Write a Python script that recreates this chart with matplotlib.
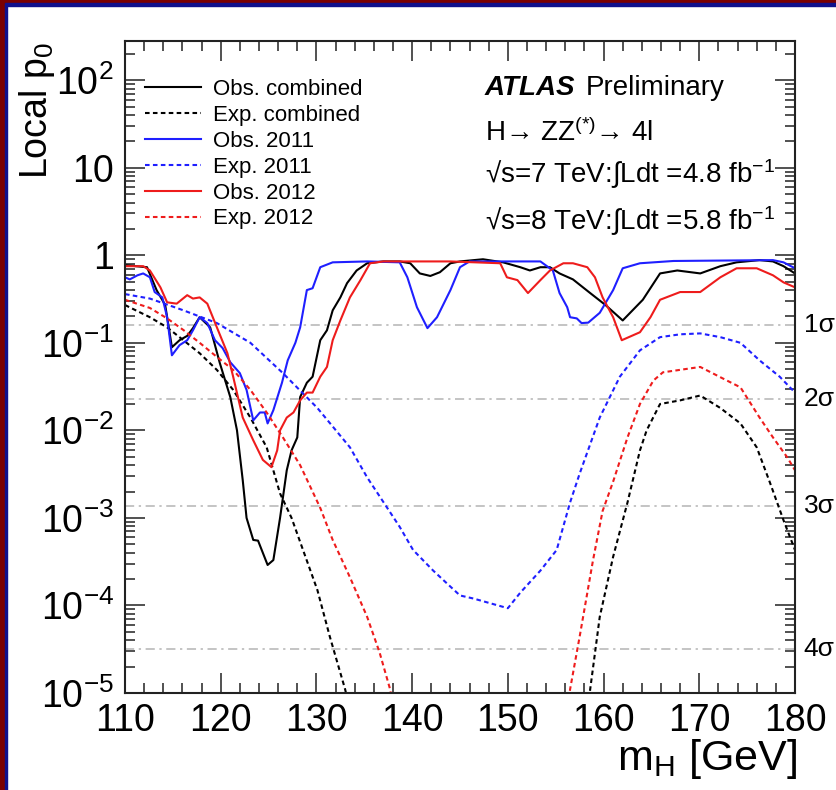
import math

import matplotlib
matplotlib.use("Agg")
import matplotlib.pyplot as plt
from matplotlib.patches import Rectangle
from matplotlib.ticker import MultipleLocator, LogLocator, FuncFormatter, NullFormatter

plt.rcParams["font.family"] = ["Liberation Sans", "DejaVu Sans"]
plt.rcParams["mathtext.fontset"] = "custom"
plt.rcParams["mathtext.rm"] = "Liberation Sans"
plt.rcParams["mathtext.it"] = "Liberation Sans:italic"
plt.rcParams["mathtext.bf"] = "Liberation Sans:bold"

# ---- data (m_H in GeV, local p0) ----
obs_comb_mass = [110.0, 112.3, 113.3, 114.2, 114.9, 115.7, 116.5, 117.1, 117.8, 118.9,
                 119.9, 121.0, 121.7, 122.3, 122.7, 123.4, 123.9, 124.9, 125.5, 126.2,
                 126.9, 127.4, 128.0, 128.3, 129.0, 129.6, 130.4, 131.1, 131.7, 132.5,
                 133.2, 134.2, 135.3, 137.0, 138.7, 139.8, 140.8, 141.9, 142.9, 144.0,
                 145.0, 147.4, 149.5, 151.3, 152.3, 153.4, 154.4, 155.4, 156.8, 158.6,
                 160.2, 162.0, 164.1, 165.9, 167.7, 170.1, 172.2, 173.9, 176.3, 177.7,
                 178.8, 180.0]
obs_comb_p0 = [0.77, 0.73, 0.40, 0.27, 0.089, 0.107, 0.12, 0.147, 0.196, 0.15,
               0.059, 0.024, 0.010, 2.7e-3, 1.0e-3, 5.6e-4, 5.5e-4, 2.9e-4, 3.3e-4, 1.0e-3,
               3.5e-3, 5.9e-3, 8.3e-3, 0.024, 0.035, 0.041, 0.107, 0.139, 0.235, 0.33,
               0.48, 0.67, 0.81, 0.85, 0.85, 0.81, 0.62, 0.58, 0.64, 0.81,
               0.85, 0.90, 0.83, 0.73, 0.67, 0.73, 0.73, 0.62, 0.53, 0.37,
               0.27, 0.18, 0.31, 0.62, 0.67, 0.62, 0.75, 0.83, 0.88, 0.85,
               0.75, 0.62]

obs_2012_mass = [110.0, 111.9, 112.6, 113.7, 114.4, 115.4, 116.5, 117.1, 117.8, 118.6,
                 119.6, 120.7, 121.3, 122.3, 123.4, 124.4, 125.3, 125.9, 126.2, 126.9,
                 127.6, 128.3, 129.0, 129.6, 130.4, 131.1, 131.7, 132.5, 133.5, 134.6,
                 135.6, 137.0, 144.0, 149.2, 149.9, 151.0, 152.1, 153.4, 154.4, 155.8,
                 156.8, 158.3, 159.1, 159.9, 161.0, 161.9, 163.8, 164.9, 165.9, 168.0,
                 170.1, 172.2, 173.9, 176.0, 177.7, 178.8, 180.0]
obs_2012_p0 = [0.75, 0.75, 0.67, 0.43, 0.29, 0.28, 0.35, 0.32, 0.33, 0.28,
               0.15, 0.076, 0.041, 0.014, 7.7e-3, 4.6e-3, 3.8e-3, 5.9e-3, 0.010, 0.014,
               0.016, 0.022, 0.027, 0.027, 0.041, 0.053, 0.107, 0.18, 0.33, 0.52,
               0.81, 0.85, 0.85, 0.81, 0.56, 0.52, 0.37, 0.52, 0.67, 0.81,
               0.81, 0.73, 0.56, 0.33, 0.196, 0.107, 0.132, 0.196, 0.31, 0.38,
               0.38, 0.56, 0.71, 0.71, 0.59, 0.49, 0.43]

obs_2011_mass = [110.0, 110.5, 111.3, 111.9, 112.6, 113.1, 113.9, 114.4, 114.9, 115.7,
                 116.5, 117.1, 117.8, 118.6, 119.4, 120.2, 121.0, 122.0, 122.7, 123.4,
                 124.1, 124.6, 124.9, 125.5, 126.4, 127.0, 127.8, 128.3, 129.0, 129.6,
                 130.4, 131.7, 135.3, 138.7, 139.5, 140.5, 141.6, 142.6, 144.0, 145.0,
                 146.0, 153.4, 154.7, 155.4, 156.2, 156.5, 157.2, 157.7, 158.4, 159.6,
                 161.0, 162.0, 163.8, 167.3, 177.7, 178.8, 180.0]
obs_2011_p0 = [0.56, 0.53, 0.59, 0.62, 0.56, 0.38, 0.33, 0.196, 0.072, 0.094,
               0.107, 0.139, 0.196, 0.168, 0.107, 0.087, 0.060, 0.045, 0.029, 0.013,
               0.016, 0.016, 0.012, 0.017, 0.035, 0.063, 0.10, 0.15, 0.40, 0.42,
               0.73, 0.83, 0.85, 0.83, 0.56, 0.255, 0.147, 0.196, 0.40, 0.73,
               0.85, 0.85, 0.67, 0.37, 0.255, 0.196, 0.19, 0.168, 0.17, 0.22,
               0.40, 0.71, 0.81, 0.86, 0.88, 0.83, 0.71]

# expected curves drop below 1e-5 in the middle: low-mass and high-mass branches
exp_comb_lo_mass = [110.0, 112.6, 114.4, 116.1, 117.8, 119.6, 121.3, 123.1, 124.8, 126.2,
                    127.4, 128.6, 130.1, 131.4, 133.0, 133.4]
exp_comb_lo_p0 = [0.27, 0.196, 0.15, 0.107, 0.076, 0.049, 0.029, 0.014, 6.4e-3, 1.9e-3,
                  1.0e-3, 4.3e-4, 1.5e-4, 4.4e-5, 1.1e-5, 7e-6]
exp_comb_hi_mass = [158.4, 158.6, 159.6, 161.0, 162.5, 163.8, 164.5, 165.9, 168.0, 170.1,
                    172.2, 174.3, 176.0, 177.4, 178.8, 180.0]
exp_comb_hi_p0 = [7e-6, 1.1e-5, 7.4e-5, 3.6e-4, 1.5e-3, 5.9e-3, 0.010, 0.020, 0.022, 0.025,
                  0.018, 0.012, 6.4e-3, 2.5e-3, 9.4e-4, 4.3e-4]

exp_2012_lo_mass = [110.0, 112.6, 114.4, 116.1, 117.8, 119.6, 121.3, 123.1, 124.8, 126.5,
                    128.3, 130.4, 131.7, 133.5, 135.3, 136.6, 137.7, 138.0]
exp_2012_lo_p0 = [0.31, 0.25, 0.19, 0.14, 0.10, 0.069, 0.049, 0.029, 0.016, 8.3e-3,
                  4.0e-3, 1.3e-3, 5.6e-4, 2.1e-4, 7.4e-5, 2.9e-5, 1.1e-5, 7e-6]
exp_2012_hi_mass = [156.3, 156.5, 157.5, 158.9, 159.9, 161.0, 162.5, 163.8, 165.2, 166.2,
                    170.1, 172.9, 174.3, 176.3, 177.7, 179.2, 180.0]
exp_2012_hi_p0 = [7e-6, 1.1e-5, 4.4e-5, 3.3e-4, 1.2e-3, 2.6e-3, 8.3e-3, 0.020, 0.037, 0.046,
                  0.053, 0.037, 0.031, 0.014, 8.3e-3, 4.9e-3, 3.5e-3]

exp_2011_mass = [110.0, 112.6, 116.1, 119.6, 123.1, 126.5, 130.1, 133.5, 135.3, 137.4,
                 138.7, 140.1, 142.2, 143.6, 145.0, 146.4, 150.0, 151.3, 153.4, 155.1,
                 156.5, 157.5, 159.6, 161.7, 163.8, 165.9, 168.0, 170.1, 172.2, 174.3,
                 176.3, 178.4, 180.0]
exp_2011_p0 = [0.36, 0.32, 0.235, 0.168, 0.10, 0.045, 0.018, 6.4e-3, 2.9e-3, 1.3e-3,
               7.9e-4, 4.3e-4, 2.5e-4, 1.8e-4, 1.3e-4, 1.2e-4, 9.3e-5, 1.4e-4, 2.5e-4, 4.3e-4,
               1.5e-3, 3.2e-3, 0.014, 0.041, 0.082, 0.116, 0.125, 0.128, 0.116, 0.10,
               0.063, 0.041, 0.027]

sigma_p0 = [0.1587, 0.02275, 1.35e-3, 3.17e-5]
sigma_labels = ["1σ", "2σ", "3σ", "4σ"]

W, H = 837, 790
fig = plt.figure(figsize=(W / 100, H / 100), dpi=100)
ax = fig.add_axes([125 / W, 97 / H, 670 / W, 652 / H])
ax.set_yscale("log")
ax.set_xlim(110, 180)
ax.set_ylim(1e-5, 280)

DOT = (0, (2.2, 1.6))
ax.plot(obs_comb_mass, obs_comb_p0, color="black", lw=1.5, label="Obs. combined")
ax.plot(exp_comb_lo_mass, exp_comb_lo_p0, color="black", lw=1.5, ls=DOT, label="Exp. combined")
ax.plot(exp_comb_hi_mass, exp_comb_hi_p0, color="black", lw=1.5, ls=DOT)
ax.plot(obs_2011_mass, obs_2011_p0, color="#1f1fff", lw=1.5, label="Obs. 2011")
ax.plot(exp_2011_mass, exp_2011_p0, color="#1f1fff", lw=1.5, ls=DOT, label="Exp. 2011")
ax.plot(obs_2012_mass, obs_2012_p0, color="#ee1c1c", lw=1.5, label="Obs. 2012")
ax.plot(exp_2012_lo_mass, exp_2012_lo_p0, color="#ee1c1c", lw=1.5, ls=DOT, label="Exp. 2012")
ax.plot(exp_2012_hi_mass, exp_2012_hi_p0, color="#ee1c1c", lw=1.5, ls=DOT)

# significance reference lines
for p, lab in zip(sigma_p0, sigma_labels):
    ax.axhline(p, color="#b4b4b4", lw=1.1, ls=(0, (6, 3, 1.5, 3)), zorder=1)
    ax.text(1.013, p, lab, transform=ax.get_yaxis_transform(), fontsize=19,
            ha="left", va="center")

# axes styling (ROOT-like, inward ticks on all sides)
ax.xaxis.set_major_locator(MultipleLocator(10))
ax.xaxis.set_minor_locator(MultipleLocator(2))
ax.yaxis.set_major_locator(LogLocator(base=10, numticks=20))
ax.yaxis.set_minor_locator(LogLocator(base=10, subs=range(2, 10), numticks=20))
ax.yaxis.set_minor_formatter(NullFormatter())


def decade(v, pos):
    e = int(round(math.log10(v)))
    if e == 0:
        return "1"
    if e == 1:
        return "10"
    return r"10$^{\mathregular{%d}}$" % e


ax.yaxis.set_major_formatter(FuncFormatter(decade))
ax.tick_params(which="both", direction="in", top=True, right=True, width=1.1, color="#222222")
ax.tick_params(which="major", length=14.5)
ax.tick_params(which="minor", length=7.2)
ax.tick_params(axis="x", labelsize=27, pad=7)
ax.tick_params(axis="y", labelsize=27, pad=8)
for s in ax.spines.values():
    s.set_linewidth(1.5)
    s.set_color("#222222")

ax.legend(loc="upper left", bbox_to_anchor=(20 / 670, 1 - 38 / 652), frameon=False,
          fontsize=16, handlelength=2.5, handletextpad=0.55, labelspacing=0.22,
          borderpad=0, borderaxespad=0)

# labels and annotations (figure pixel positions)
fig.text(37 / W, 1 - 42 / H, r"Local p$_{\mathregular{0}}$", rotation=90, fontsize=27,
         ha="center", va="top")
fig.text(797 / W, 1 - 770 / H, r"m$_{\mathregular{H}}$ [GeV]", fontsize=31,
         ha="right", va="baseline")
fig.text(485 / W, 1 - 95 / H, "ATLAS", fontsize=20, fontweight="bold", fontstyle="italic",
         va="baseline")
fig.text(586 / W, 1 - 95 / H, "Preliminary", fontsize=20, va="baseline")
fig.text(485 / W, 1 - 141 / H, r"H→ ZZ$^{\mathregular{(*)}}$→ 4l", fontsize=20, va="baseline")
fig.text(485 / W, 1 - 183 / H, r"√s=7 TeV:∫Ldt =4.8 fb$^{\mathregular{-1}}$", fontsize=20,
         va="baseline")
fig.text(485 / W, 1 - 230 / H, r"√s=8 TeV:∫Ldt =5.8 fb$^{\mathregular{-1}}$", fontsize=20,
         va="baseline")

# slide frame: dark red band with thin blue edge on the left and top
fig.patches.append(Rectangle((0, 0), 5 / W, 1, transform=fig.transFigure, color="#7a0000"))
fig.patches.append(Rectangle((5 / W, 0), 2 / W, 1 - 3.5 / H, transform=fig.transFigure,
                             color="#10108c"))
fig.patches.append(Rectangle((0, 1 - 3.5 / H), 1, 3.5 / H, transform=fig.transFigure,
                             color="#7a0000"))
fig.patches.append(Rectangle((5 / W, 1 - 5.5 / H), 1, 2 / H, transform=fig.transFigure,
                             color="#10108c"))

fig.savefig("out.png", dpi=100)
